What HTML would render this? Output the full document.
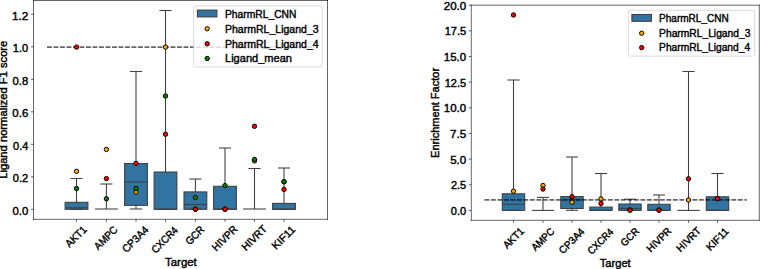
<!DOCTYPE html>
<html><head><meta charset="utf-8"><title>PharmRL boxplots</title>
<style>
html,body{margin:0;padding:0;background:#fff;}
body{width:760px;height:269px;overflow:hidden;}
svg{display:block;}
.t text{font-family:"Liberation Sans",sans-serif;font-size:10.6px;font-weight:normal;fill:#000;stroke:#000;stroke-width:0.4px;}
</style></head>
<body>
<svg width="760" height="269" viewBox="0 0 760 269">
<rect x="0" y="0" width="760" height="269" fill="#fff"/>
<g stroke="#3f3f3f" stroke-width="1.07" fill="none">
<rect x="65.10" y="202.30" width="22.80" height="7.00" fill="#3274a1" stroke="#3f3f3f" stroke-width="1.07"/>
<line x1="76.50" y1="202.30" x2="76.50" y2="178.50"/>
<line x1="70.45" y1="178.50" x2="82.55" y2="178.50"/>
<line x1="70.45" y1="209.30" x2="82.55" y2="209.30"/>
<line x1="65.10" y1="207.80" x2="87.90" y2="207.80"/>
<line x1="106.40" y1="209.00" x2="106.40" y2="184.00"/>
<line x1="100.35" y1="184.00" x2="112.45" y2="184.00"/>
<line x1="95.00" y1="209.00" x2="117.80" y2="209.00"/>
<rect x="124.60" y="163.50" width="22.80" height="41.90" fill="#3274a1" stroke="#3f3f3f" stroke-width="1.07"/>
<line x1="136.00" y1="163.50" x2="136.00" y2="71.50"/>
<line x1="136.00" y1="205.40" x2="136.00" y2="209.00"/>
<line x1="129.95" y1="71.50" x2="142.05" y2="71.50"/>
<line x1="129.95" y1="209.00" x2="142.05" y2="209.00"/>
<line x1="124.60" y1="182.00" x2="147.40" y2="182.00"/>
<rect x="154.10" y="172.00" width="22.80" height="37.30" fill="#3274a1" stroke="#3f3f3f" stroke-width="1.07"/>
<line x1="165.50" y1="172.00" x2="165.50" y2="10.50"/>
<line x1="159.45" y1="10.50" x2="171.55" y2="10.50"/>
<line x1="159.45" y1="209.30" x2="171.55" y2="209.30"/>
<line x1="154.10" y1="209.30" x2="176.90" y2="209.30"/>
<rect x="184.00" y="191.90" width="22.80" height="17.40" fill="#3274a1" stroke="#3f3f3f" stroke-width="1.07"/>
<line x1="195.40" y1="191.90" x2="195.40" y2="179.00"/>
<line x1="189.35" y1="179.00" x2="201.45" y2="179.00"/>
<line x1="189.35" y1="209.30" x2="201.45" y2="209.30"/>
<line x1="184.00" y1="204.50" x2="206.80" y2="204.50"/>
<rect x="213.60" y="186.30" width="22.80" height="23.00" fill="#3274a1" stroke="#3f3f3f" stroke-width="1.07"/>
<line x1="225.00" y1="186.30" x2="225.00" y2="148.00"/>
<line x1="218.95" y1="148.00" x2="231.05" y2="148.00"/>
<line x1="218.95" y1="209.30" x2="231.05" y2="209.30"/>
<line x1="213.60" y1="209.30" x2="236.40" y2="209.30"/>
<line x1="254.50" y1="209.00" x2="254.50" y2="168.50"/>
<line x1="248.45" y1="168.50" x2="260.55" y2="168.50"/>
<line x1="243.10" y1="209.00" x2="265.90" y2="209.00"/>
<rect x="272.60" y="203.40" width="22.80" height="5.90" fill="#3274a1" stroke="#3f3f3f" stroke-width="1.07"/>
<line x1="284.00" y1="203.40" x2="284.00" y2="168.00"/>
<line x1="277.95" y1="168.00" x2="290.05" y2="168.00"/>
<line x1="277.95" y1="209.30" x2="290.05" y2="209.30"/>
<line x1="272.60" y1="209.30" x2="295.40" y2="209.30"/>
</g>
<line x1="47.00" y1="47.10" x2="314.60" y2="47.10" stroke="#000" stroke-opacity="0.6" stroke-width="1.6" stroke-dasharray="4.9 1.6"/>
<g stroke="#000" stroke-width="0.95">
<circle cx="76.50" cy="171.30" r="2.2" fill="orange"/>
<circle cx="106.40" cy="149.40" r="2.2" fill="orange"/>
<circle cx="136.00" cy="192.00" r="2.2" fill="orange"/>
<circle cx="165.50" cy="47.10" r="2.2" fill="orange"/>
<circle cx="195.40" cy="209.30" r="2.2" fill="orange"/>
<circle cx="225.00" cy="209.30" r="2.2" fill="orange"/>
<circle cx="254.50" cy="160.90" r="2.2" fill="orange"/>
<circle cx="284.00" cy="181.70" r="2.2" fill="orange"/>
<circle cx="76.50" cy="47.10" r="2.2" fill="red"/>
<circle cx="106.40" cy="178.60" r="2.2" fill="red"/>
<circle cx="136.00" cy="163.40" r="2.2" fill="red"/>
<circle cx="165.50" cy="134.20" r="2.2" fill="red"/>
<circle cx="195.40" cy="209.10" r="2.2" fill="red"/>
<circle cx="225.00" cy="209.10" r="2.2" fill="red"/>
<circle cx="254.50" cy="126.30" r="2.2" fill="red"/>
<circle cx="284.00" cy="189.40" r="2.2" fill="red"/>
<circle cx="76.50" cy="188.50" r="2.2" fill="green"/>
<circle cx="106.40" cy="198.80" r="2.2" fill="green"/>
<circle cx="136.00" cy="188.50" r="2.2" fill="green"/>
<circle cx="165.50" cy="96.00" r="2.2" fill="green"/>
<circle cx="195.40" cy="197.50" r="2.2" fill="green"/>
<circle cx="225.00" cy="185.60" r="2.2" fill="green"/>
<circle cx="254.50" cy="159.40" r="2.2" fill="green"/>
<circle cx="284.00" cy="181.70" r="2.2" fill="green"/>
</g>
<g stroke="#000" stroke-width="0.6" fill="none" stroke-linecap="square">
<line x1="33.5" y1="0.5" x2="33.5" y2="219.3"/><line x1="327.5" y1="0.5" x2="327.5" y2="219.3"/>
<line x1="33.5" y1="0.5" x2="327.5" y2="0.5"/><line x1="33.5" y1="219.3" x2="327.5" y2="219.3"/>
</g>
<g stroke="#000" stroke-width="0.6">
<line x1="30.90" y1="209.30" x2="33.50" y2="209.30"/>
<line x1="30.90" y1="176.80" x2="33.50" y2="176.80"/>
<line x1="30.90" y1="144.30" x2="33.50" y2="144.30"/>
<line x1="30.90" y1="111.80" x2="33.50" y2="111.80"/>
<line x1="30.90" y1="79.30" x2="33.50" y2="79.30"/>
<line x1="30.90" y1="46.80" x2="33.50" y2="46.80"/>
<line x1="30.90" y1="14.30" x2="33.50" y2="14.30"/>
<line x1="76.50" y1="219.30" x2="76.50" y2="221.90"/>
<line x1="106.40" y1="219.30" x2="106.40" y2="221.90"/>
<line x1="136.00" y1="219.30" x2="136.00" y2="221.90"/>
<line x1="165.50" y1="219.30" x2="165.50" y2="221.90"/>
<line x1="195.40" y1="219.30" x2="195.40" y2="221.90"/>
<line x1="225.00" y1="219.30" x2="225.00" y2="221.90"/>
<line x1="254.50" y1="219.30" x2="254.50" y2="221.90"/>
<line x1="284.00" y1="219.30" x2="284.00" y2="221.90"/>
</g>
<g class="t">
<text x="28.30" y="214.50" text-anchor="end" textLength="15.78" lengthAdjust="spacingAndGlyphs">0.0</text>
<text x="28.30" y="182.00" text-anchor="end" textLength="15.41" lengthAdjust="spacingAndGlyphs">0.2</text>
<text x="28.30" y="149.50" text-anchor="end" textLength="15.19" lengthAdjust="spacingAndGlyphs">0.4</text>
<text x="28.30" y="117.00" text-anchor="end" textLength="15.92" lengthAdjust="spacingAndGlyphs">0.6</text>
<text x="28.30" y="84.50" text-anchor="end" textLength="15.70" lengthAdjust="spacingAndGlyphs">0.8</text>
<text x="28.30" y="52.00" text-anchor="end" textLength="15.41" lengthAdjust="spacingAndGlyphs">1.0</text>
<text x="28.30" y="19.50" text-anchor="end" textLength="16.16" lengthAdjust="spacingAndGlyphs">1.2</text>
<text transform="translate(69.577 248.017) rotate(-45)" textLength="25.26" lengthAdjust="spacingAndGlyphs">AKT1</text>
<text transform="translate(98.279 250.412) rotate(-45)" textLength="28.33" lengthAdjust="spacingAndGlyphs">AMPC</text>
<text transform="translate(126.431 253.309) rotate(-45)" textLength="32.19" lengthAdjust="spacingAndGlyphs">CP3A4</text>
<text transform="translate(155.639 253.891) rotate(-45)" textLength="32.49" lengthAdjust="spacingAndGlyphs">CXCR4</text>
<text transform="translate(189.684 245.603) rotate(-45)" textLength="21.69" lengthAdjust="spacingAndGlyphs">GCR</text>
<text transform="translate(216.240 251.691) rotate(-45)" textLength="30.87" lengthAdjust="spacingAndGlyphs">HIVPR</text>
<text transform="translate(245.969 251.233) rotate(-45)" textLength="30.54" lengthAdjust="spacingAndGlyphs">HIVRT</text>
<text transform="translate(276.055 250.061) rotate(-45)" textLength="28.11" lengthAdjust="spacingAndGlyphs">KIF11</text>
<text x="180.90" y="265.70" text-anchor="middle" textLength="31.72" lengthAdjust="spacingAndGlyphs">Target</text>
<text x="7.40" y="109.75" text-anchor="middle" textLength="138.10" lengthAdjust="spacingAndGlyphs" transform="rotate(-90 7.40 109.75)">Ligand normalized F1 score</text>
</g>
<g stroke="#3f3f3f" stroke-width="1.07" fill="none">
<rect x="502.30" y="193.80" width="22.40" height="16.60" fill="#3274a1" stroke="#3f3f3f" stroke-width="1.07"/>
<line x1="513.50" y1="193.80" x2="513.50" y2="80.00"/>
<line x1="507.45" y1="80.00" x2="519.55" y2="80.00"/>
<line x1="507.45" y1="210.40" x2="519.55" y2="210.40"/>
<line x1="502.30" y1="204.30" x2="524.70" y2="204.30"/>
<line x1="543.00" y1="210.40" x2="543.00" y2="197.40"/>
<line x1="536.95" y1="197.40" x2="549.05" y2="197.40"/>
<line x1="531.80" y1="210.40" x2="554.20" y2="210.40"/>
<rect x="560.80" y="196.60" width="22.40" height="11.90" fill="#3274a1" stroke="#3f3f3f" stroke-width="1.07"/>
<line x1="572.00" y1="196.60" x2="572.00" y2="157.00"/>
<line x1="572.00" y1="208.50" x2="572.00" y2="210.30"/>
<line x1="565.95" y1="157.00" x2="578.05" y2="157.00"/>
<line x1="565.95" y1="210.30" x2="578.05" y2="210.30"/>
<line x1="560.80" y1="199.80" x2="583.20" y2="199.80"/>
<rect x="589.80" y="207.10" width="22.40" height="3.30" fill="#3274a1" stroke="#3f3f3f" stroke-width="1.07"/>
<line x1="601.00" y1="207.10" x2="601.00" y2="173.50"/>
<line x1="594.95" y1="173.50" x2="607.05" y2="173.50"/>
<line x1="594.95" y1="210.40" x2="607.05" y2="210.40"/>
<line x1="589.80" y1="210.40" x2="612.20" y2="210.40"/>
<rect x="618.80" y="204.00" width="22.40" height="6.40" fill="#3274a1" stroke="#3f3f3f" stroke-width="1.07"/>
<line x1="630.00" y1="204.00" x2="630.00" y2="199.20"/>
<line x1="623.95" y1="199.20" x2="636.05" y2="199.20"/>
<line x1="623.95" y1="210.40" x2="636.05" y2="210.40"/>
<line x1="618.80" y1="208.40" x2="641.20" y2="208.40"/>
<rect x="647.80" y="204.30" width="22.40" height="6.10" fill="#3274a1" stroke="#3f3f3f" stroke-width="1.07"/>
<line x1="659.00" y1="204.30" x2="659.00" y2="195.00"/>
<line x1="652.95" y1="195.00" x2="665.05" y2="195.00"/>
<line x1="652.95" y1="210.40" x2="665.05" y2="210.40"/>
<line x1="647.80" y1="210.40" x2="670.20" y2="210.40"/>
<line x1="688.50" y1="210.40" x2="688.50" y2="71.50"/>
<line x1="682.45" y1="71.50" x2="694.55" y2="71.50"/>
<line x1="677.30" y1="210.40" x2="699.70" y2="210.40"/>
<rect x="706.30" y="196.80" width="22.40" height="13.60" fill="#3274a1" stroke="#3f3f3f" stroke-width="1.07"/>
<line x1="717.50" y1="196.80" x2="717.50" y2="173.50"/>
<line x1="711.45" y1="173.50" x2="723.55" y2="173.50"/>
<line x1="711.45" y1="210.40" x2="723.55" y2="210.40"/>
<line x1="706.30" y1="210.40" x2="728.70" y2="210.40"/>
</g>
<line x1="484.40" y1="199.90" x2="746.75" y2="199.90" stroke="#000" stroke-opacity="0.6" stroke-width="1.6" stroke-dasharray="4.9 1.6"/>
<g stroke="#000" stroke-width="0.95">
<circle cx="513.50" cy="191.20" r="2.2" fill="orange"/>
<circle cx="543.00" cy="185.50" r="2.2" fill="orange"/>
<circle cx="572.00" cy="202.20" r="2.2" fill="orange"/>
<circle cx="601.00" cy="198.90" r="2.2" fill="orange"/>
<circle cx="630.00" cy="210.10" r="2.2" fill="orange"/>
<circle cx="659.00" cy="210.10" r="2.2" fill="orange"/>
<circle cx="688.50" cy="200.00" r="2.2" fill="orange"/>
<circle cx="717.50" cy="198.50" r="2.2" fill="orange"/>
<circle cx="513.50" cy="15.00" r="2.2" fill="red"/>
<circle cx="543.00" cy="189.10" r="2.2" fill="red"/>
<circle cx="572.00" cy="196.70" r="2.2" fill="red"/>
<circle cx="601.00" cy="203.50" r="2.2" fill="red"/>
<circle cx="630.00" cy="210.10" r="2.2" fill="red"/>
<circle cx="659.00" cy="210.10" r="2.2" fill="red"/>
<circle cx="688.50" cy="178.80" r="2.2" fill="red"/>
<circle cx="717.50" cy="198.50" r="2.2" fill="red"/>
</g>
<g stroke="#000" stroke-width="0.6" fill="none" stroke-linecap="square">
<line x1="471.3" y1="5.2" x2="471.3" y2="220.3"/><line x1="759.3" y1="5.2" x2="759.3" y2="220.3"/>
<line x1="471.3" y1="5.2" x2="759.3" y2="5.2"/><line x1="471.3" y1="220.3" x2="759.3" y2="220.3"/>
</g>
<g stroke="#000" stroke-width="0.6">
<line x1="468.75" y1="210.40" x2="471.30" y2="210.40"/>
<line x1="468.75" y1="184.75" x2="471.30" y2="184.75"/>
<line x1="468.75" y1="159.10" x2="471.30" y2="159.10"/>
<line x1="468.75" y1="133.45" x2="471.30" y2="133.45"/>
<line x1="468.75" y1="107.80" x2="471.30" y2="107.80"/>
<line x1="468.75" y1="82.15" x2="471.30" y2="82.15"/>
<line x1="468.75" y1="56.50" x2="471.30" y2="56.50"/>
<line x1="468.75" y1="30.85" x2="471.30" y2="30.85"/>
<line x1="468.75" y1="5.20" x2="471.30" y2="5.20"/>
<line x1="513.50" y1="220.30" x2="513.50" y2="222.85"/>
<line x1="543.00" y1="220.30" x2="543.00" y2="222.85"/>
<line x1="572.00" y1="220.30" x2="572.00" y2="222.85"/>
<line x1="601.00" y1="220.30" x2="601.00" y2="222.85"/>
<line x1="630.00" y1="220.30" x2="630.00" y2="222.85"/>
<line x1="659.00" y1="220.30" x2="659.00" y2="222.85"/>
<line x1="688.50" y1="220.30" x2="688.50" y2="222.85"/>
<line x1="717.50" y1="220.30" x2="717.50" y2="222.85"/>
</g>
<g class="t">
<text x="466.20" y="214.88" text-anchor="end" textLength="15.37" lengthAdjust="spacingAndGlyphs" style="font-size:10.32px">0.0</text>
<text x="466.20" y="189.23" text-anchor="end" textLength="15.29" lengthAdjust="spacingAndGlyphs" style="font-size:10.32px">2.5</text>
<text x="466.20" y="163.58" text-anchor="end" textLength="16.03" lengthAdjust="spacingAndGlyphs" style="font-size:10.32px">5.0</text>
<text x="466.20" y="137.93" text-anchor="end" textLength="16.10" lengthAdjust="spacingAndGlyphs" style="font-size:10.32px">7.5</text>
<text x="466.20" y="112.28" text-anchor="end" textLength="22.34" lengthAdjust="spacingAndGlyphs" style="font-size:10.32px">10.0</text>
<text x="466.20" y="86.63" text-anchor="end" textLength="21.48" lengthAdjust="spacingAndGlyphs" style="font-size:10.32px">12.5</text>
<text x="466.20" y="60.98" text-anchor="end" textLength="22.34" lengthAdjust="spacingAndGlyphs" style="font-size:10.32px">15.0</text>
<text x="466.20" y="35.33" text-anchor="end" textLength="21.48" lengthAdjust="spacingAndGlyphs" style="font-size:10.32px">17.5</text>
<text x="466.20" y="9.68" text-anchor="end" textLength="22.45" lengthAdjust="spacingAndGlyphs" style="font-size:10.32px">20.0</text>
<text transform="translate(507.159 249.281) rotate(-45)" textLength="24.61" lengthAdjust="spacingAndGlyphs" style="font-size:10.32px">AKT1</text>
<text transform="translate(535.493 251.614) rotate(-45)" textLength="27.60" lengthAdjust="spacingAndGlyphs" style="font-size:10.32px">AMPC</text>
<text transform="translate(563.082 254.435) rotate(-45)" textLength="31.35" lengthAdjust="spacingAndGlyphs" style="font-size:10.32px">CP3A4</text>
<text transform="translate(591.798 255.002) rotate(-45)" textLength="31.64" lengthAdjust="spacingAndGlyphs" style="font-size:10.32px">CXCR4</text>
<text transform="translate(624.835 246.929) rotate(-45)" textLength="21.12" lengthAdjust="spacingAndGlyphs" style="font-size:10.32px">GCR</text>
<text transform="translate(650.870 252.859) rotate(-45)" textLength="30.06" lengthAdjust="spacingAndGlyphs" style="font-size:10.32px">HIVPR</text>
<text transform="translate(680.593 252.413) rotate(-45)" textLength="29.75" lengthAdjust="spacingAndGlyphs" style="font-size:10.32px">HIVRT</text>
<text transform="translate(710.164 251.271) rotate(-45)" textLength="27.38" lengthAdjust="spacingAndGlyphs" style="font-size:10.32px">KIF11</text>
<text x="615.25" y="266.90" text-anchor="middle" textLength="30.89" lengthAdjust="spacingAndGlyphs" style="font-size:10.32px">Target</text>
<text x="438.80" y="112.90" text-anchor="middle" textLength="89.97" lengthAdjust="spacingAndGlyphs" style="font-size:10.32px" transform="rotate(-90 438.80 112.90)">Enrichment Factor</text>
</g>
<rect x="193.70" y="5.90" width="128.50" height="61.00" rx="2" ry="2" fill="#fff" fill-opacity="0.8" stroke="#cccccc" stroke-width="0.75"/>
<rect x="197.40" y="10.10" width="19.50" height="6.80" fill="#3274a1" stroke="#3f3f3f" stroke-width="1.07"/>
<circle cx="207.20" cy="28.75" r="2.2" fill="orange" stroke="#000" stroke-width="0.95"/>
<circle cx="207.20" cy="43.80" r="2.2" fill="red" stroke="#000" stroke-width="0.95"/>
<circle cx="207.20" cy="58.50" r="2.2" fill="green" stroke="#000" stroke-width="0.95"/>
<g class="t">
<text x="225.00" y="17.70" text-anchor="start" textLength="71.48" lengthAdjust="spacingAndGlyphs">PharmRL_CNN</text>
<text x="225.00" y="32.60" text-anchor="start" textLength="93.62" lengthAdjust="spacingAndGlyphs">PharmRL_Ligand_3</text>
<text x="225.00" y="47.50" text-anchor="start" textLength="93.58" lengthAdjust="spacingAndGlyphs">PharmRL_Ligand_4</text>
<text x="225.00" y="62.10" text-anchor="start" textLength="66.94" lengthAdjust="spacingAndGlyphs">Ligand_mean</text>
</g>
<rect x="628.30" y="10.20" width="126.30" height="45.90" rx="2" ry="2" fill="#fff" fill-opacity="0.8" stroke="#cccccc" stroke-width="0.75"/>
<rect x="631.90" y="14.50" width="19.50" height="6.80" fill="#3274a1" stroke="#3f3f3f" stroke-width="1.07"/>
<circle cx="641.70" cy="33.20" r="2.2" fill="orange" stroke="#000" stroke-width="0.95"/>
<circle cx="641.70" cy="47.60" r="2.2" fill="red" stroke="#000" stroke-width="0.95"/>
<g class="t">
<text x="659.10" y="22.20" text-anchor="start" textLength="69.62" lengthAdjust="spacingAndGlyphs" style="font-size:10.32px">PharmRL_CNN</text>
<text x="659.10" y="36.60" text-anchor="start" textLength="91.29" lengthAdjust="spacingAndGlyphs" style="font-size:10.32px">PharmRL_Ligand_3</text>
<text x="659.10" y="51.30" text-anchor="start" textLength="91.01" lengthAdjust="spacingAndGlyphs" style="font-size:10.32px">PharmRL_Ligand_4</text>
</g>
</svg>
</body></html>
